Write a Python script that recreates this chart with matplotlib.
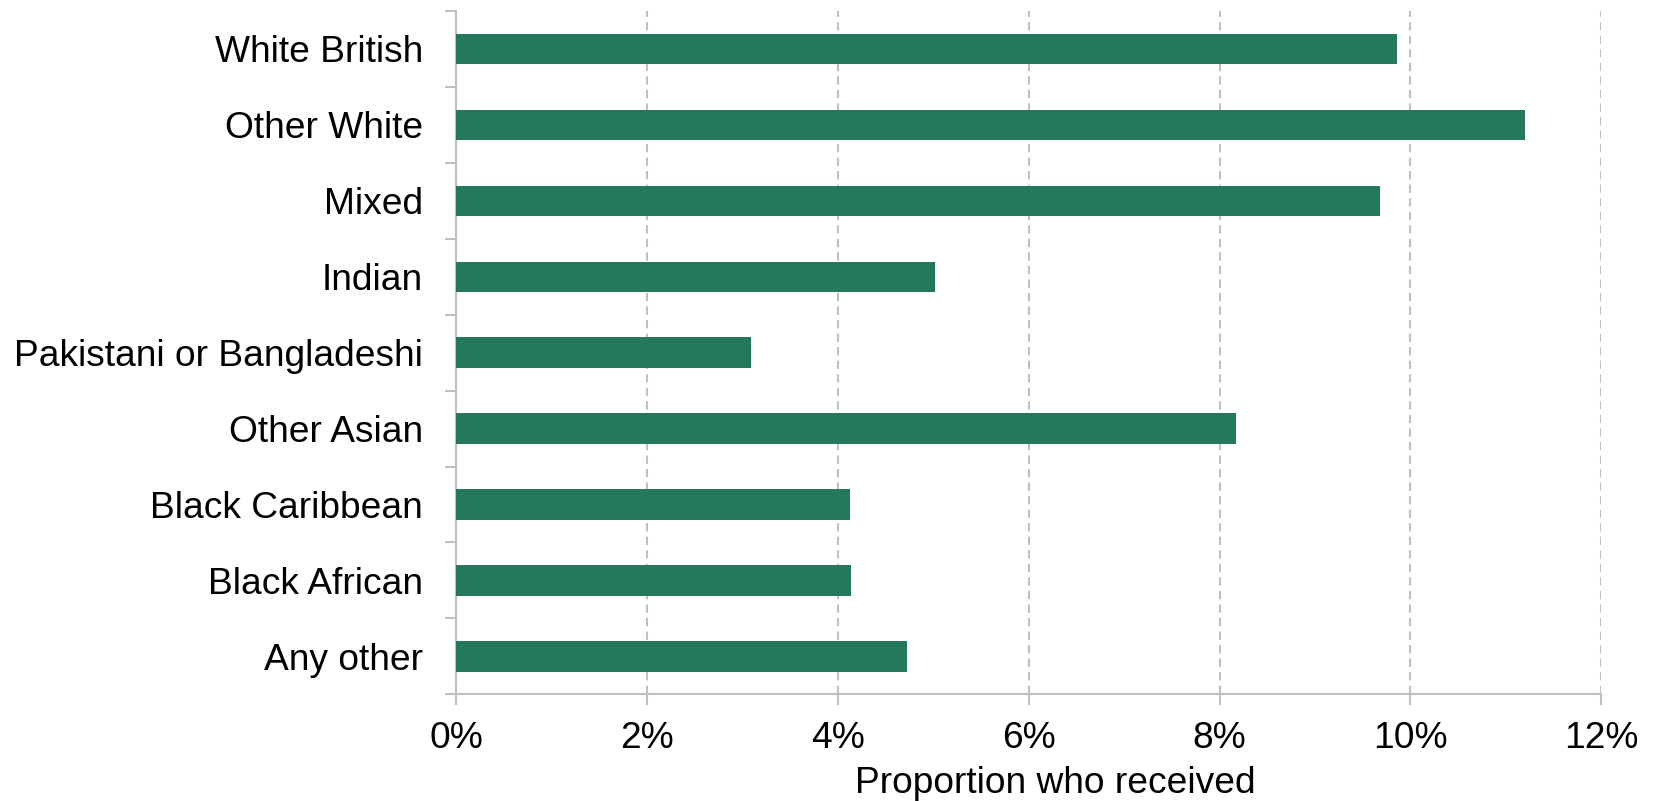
import numpy as np
import matplotlib.pyplot as plt
from matplotlib.ticker import FuncFormatter, FixedLocator

plt.rcParams['font.family'] = ['Liberation Sans', 'DejaVu Sans']

categories = [
    "White British",
    "Other White",
    "Mixed",
    "Indian",
    "Pakistani or Bangladeshi",
    "Other Asian",
    "Black Caribbean",
    "Black African",
    "Any other",
]
values = [9.86, 11.2, 9.68, 5.02, 3.09, 8.17, 4.13, 4.14, 4.72]

bar_color = "#24795A"
grid_color = "#C0C0C0"

fig = plt.figure(figsize=(16.55, 8.01), dpi=100)
ax = fig.add_axes([0.2758, 0.1332, 0.9674 - 0.2758, 0.9863 - 0.1332])

y = np.arange(len(categories))
ax.barh(y, values, height=0.4, color=bar_color, zorder=3)

ax.set_xlim(0, 12)
ax.set_ylim(len(categories) - 0.5, -0.5)

ax.set_xticks(np.arange(0, 13, 2))
ax.xaxis.set_major_formatter(FuncFormatter(lambda v, p: f"{v:.0f}%"))
ax.set_yticks(y)
ax.set_yticklabels(categories)
ax.yaxis.set_minor_locator(FixedLocator(np.arange(-0.5, len(categories), 1)))

for v in np.arange(2, 13, 2):
    ax.axvline(v, color=grid_color, lw=1.5, ls=(0, (4, 2.5)), zorder=1)

for s in ["top", "right"]:
    ax.spines[s].set_visible(False)
for s in ["left", "bottom"]:
    ax.spines[s].set_color(grid_color)
    ax.spines[s].set_linewidth(1.5)

ax.tick_params(axis="y", which="major", length=0, pad=24, labelsize=26.7)
ax.tick_params(axis="y", which="minor", length=8, width=1.5, color=grid_color)
ax.tick_params(axis="x", which="major", length=8, width=1.5, color=grid_color,
               pad=11, labelsize=26.7)

ax.set_xlabel("Proportion who received", fontsize=26.7, va="center")
ax.xaxis.set_label_coords(0.523, -0.13)

fig.savefig("out.png", dpi=100)
